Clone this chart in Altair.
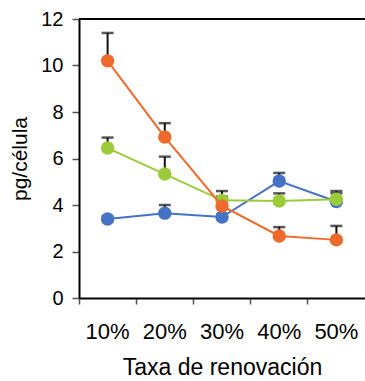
import altair as alt
import pandas as pd

categories = ["10%", "20%", "30%", "40%", "50%"]
series_names = ["Azul", "Verde", "Laranxa"]
blue_vals = [3.4, 3.65, 3.48, 5.03, 4.15]
blue_err = [0.1, 0.35, 0.1, 0.35, 0.35]
green_vals = [6.45, 5.33, 4.2, 4.17, 4.25]
green_err = [0.45, 0.75, 0.4, 0.33, 0.35]
orange_vals = [10.2, 6.92, 3.96, 2.67, 2.5]
orange_err = [1.2, 0.6, 0.4, 0.38, 0.6]
colors = ["#4472C4", "#9BCB3B", "#EE6A2C"]

rows = []
for name, vals, errs in zip(series_names, [blue_vals, green_vals, orange_vals],
                            [blue_err, green_err, orange_err]):
    for c, v, e in zip(categories, vals, errs):
        rows.append({"cat": c, "serie": name, "val": v, "top": v + e})
df = pd.DataFrame(rows)

xenc = alt.X("cat:N", sort=categories, title="Taxa de renovación",
             scale=alt.Scale(paddingInner=0, paddingOuter=0),
             axis=alt.Axis(labelAngle=0, bandPosition=0, domainColor="black", domainWidth=2,
                           tickColor="#555555", tickWidth=1.5, tickSize=6,
                           labelFontSize=22, labelPadding=17, labelColor="black",
                           labelFont="Liberation Sans",
                           titleFont="Liberation Sans", titleFontSize=23,
                           titleFontWeight="normal", titlePadding=14, titleColor="black"))
yscale = alt.Scale(domain=[0, 12])
yaxis = alt.Axis(values=[0, 2, 4, 6, 8, 10, 12], grid=False, domainColor="black", domainWidth=2,
                 tickColor="#555555", tickWidth=1.5, tickSize=7, labelFontSize=20,
                 labelPadding=9, labelColor="black", labelFont="Liberation Sans",
                 titleFont="Liberation Sans", titleFontSize=21, titleFontWeight="normal",
                 titlePadding=10, titleColor="black")

base = alt.Chart(df)

err = base.mark_rule(color="#111111", strokeWidth=2).encode(
    x=xenc, y=alt.Y("val:Q", scale=yscale, axis=yaxis, title="pg/célula"), y2="top:Q")
caps = base.mark_tick(color="#111111", thickness=2.5, size=12, orient="horizontal").encode(
    x=xenc, y=alt.Y("top:Q", scale=yscale))

layers = []
for name, col in zip(series_names, colors):
    sub = alt.Chart(df[df["serie"] == name])
    ln = sub.mark_line(color=col, strokeWidth=2).encode(
        x=xenc, y=alt.Y("val:Q", scale=yscale, axis=yaxis, title="pg/célula"))
    pt = sub.mark_circle(color=col, size=180, opacity=1).encode(
        x=xenc, y=alt.Y("val:Q", scale=yscale))
    layers += [ln, pt]

topline = alt.Chart(pd.DataFrame({"a": [0]})).mark_rule(color="black", strokeWidth=2).encode(
    x=alt.value(0), x2=alt.value(290), y=alt.value(0))

chart = alt.layer(err, caps, *layers, topline).properties(
    width=286, height=279,
    autosize=alt.AutoSizeParams(type="none"),
    padding={"left": 79, "top": 19, "right": 0, "bottom": 83},
    background="white",
).configure_view(stroke=None)

chart.save("out.html", embed_options={"renderer": "svg", "actions": False})
